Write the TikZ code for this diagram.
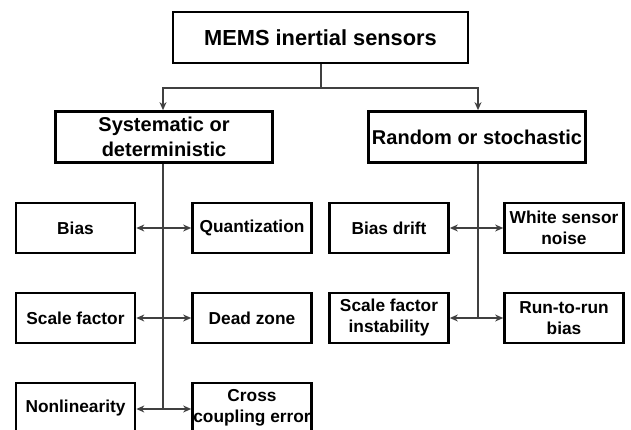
\documentclass[tikz,border=0pt]{standalone}
\usepackage{fontspec}
\setmainfont{Liberation Sans}
\usetikzlibrary{arrows.meta}
\begin{document}
\begin{tikzpicture}[x=1pt,y=-1pt,
  box/.style={draw=black,line width=2.7pt,fill=white,inner sep=0pt,align=center,font=\bfseries\fontsize{17.3}{21}\selectfont},
  leaf/.style={box,minimum width=119pt,minimum height=50pt},
  mid/.style={box,minimum width=217pt,minimum height=51pt,font=\bfseries\fontsize{20}{25}\selectfont},
  conn/.style={line width=1.1pt,draw=black!75},
  arr/.style={conn,-{Stealth[length=8pt,width=7pt]}},
  darr/.style={conn,{Stealth[length=8pt,width=7pt]}-{Stealth[length=8pt,width=7pt]}}]
\useasboundingbox (0,0) rectangle (631,430);
\clip (0,0) rectangle (631,430);
\fill[white] (0,0) rectangle (631,430);
% top
\node[box,minimum width=295pt,minimum height=51pt,font=\bfseries\fontsize{21.8}{25}\selectfont] (top) at (320.5,37.5) {MEMS inertial sensors};
\node[mid] (sys) at (164,137) {Systematic or\\deterministic};
\node[mid] (rnd) at (477,137) {Random or stochastic};
\coordinate (j) at (321,88);
\draw[conn] (top.south -| j) -- (j);
\draw[arr] (j) -| (sys.north -| 163,0);
\draw[arr] (j) -| (rnd.north -| 478,0);
% left group
\node[leaf] (bias) at (75.5,228) {Bias};
\node[leaf] (quant) at (252,228) {Quantization};
\node[leaf] (sf) at (75.5,318) {Scale factor};
\node[leaf] (dz) at (252,318) {Dead zone};
\node[leaf] (nl) at (75.5,408) {Nonlinearity};
\node[leaf] (cc) at (252,408) {Cross\\coupling error};
\coordinate (t3) at (163,409);
\draw[conn] (sys.south -| t3) -- (t3);
\draw[darr] (bias.east) -- (quant.west);
\draw[darr] (sf.east) -- (dz.west);
\draw[darr] (nl.east |- t3) -- (cc.west |- t3);
% right group
\node[leaf] (bd) at (389,228) {Bias drift};
\node[leaf] (wn) at (564,228) {White sensor\\noise};
\node[leaf] (sfi) at (389,318) {Scale factor\\instability};
\node[leaf] (rr) at (564,318) {Run-to-run\\bias};
\coordinate (r2) at (478,318);
\draw[conn] (rnd.south -| r2) -- (r2);
\draw[darr] (bd.east) -- (wn.west);
\draw[darr] (sfi.east) -- (rr.west);
\end{tikzpicture}
\end{document}
